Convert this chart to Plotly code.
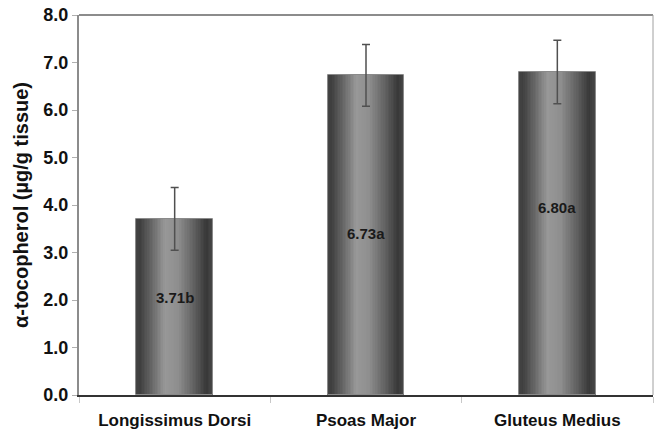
import plotly.graph_objects as go

# Alpha-tocopherol content per muscle
muscles = ["Longissimus Dorsi", "Psoas Major", "Gluteus Medius"]
tocopherol = [3.71, 6.73, 6.80]
std_err = [0.66, 0.65, 0.67]
letters = ["b", "a", "a"]
y_ticks = [0, 1, 2, 3, 4, 5, 6, 7, 8]

FONT = "Liberation Sans, Arial, sans-serif"
BAR_W = 0.40       # bar width in category units
N_STRIPS = 48      # vertical strips used to shade each bar like a cylinder

# grey level stops across the bar (fraction of width -> grey value)
shade_stops = [(0.0, 0x46), (0.05, 0x3e), (0.22, 0x6a), (0.38, 0x98),
               (0.55, 0x8e), (0.78, 0x5c), (0.92, 0x38), (1.0, 0x48)]


def grey_at(t):
    for (t0, g0), (t1, g1) in zip(shade_stops, shade_stops[1:]):
        if t0 <= t <= t1:
            g = g0 + (g1 - g0) * (t - t0) / (t1 - t0)
            g = int(round(g))
            return f"rgb({g},{g},{g})"
    g = shade_stops[-1][1]
    return f"rgb({g},{g},{g})"


fig = go.Figure()

strip_w = BAR_W / N_STRIPS
for i in range(N_STRIPS):
    t = (i + 0.5) / N_STRIPS
    fig.add_trace(go.Bar(
        x=muscles, y=tocopherol,
        width=strip_w * 1.08, offset=-BAR_W / 2 + i * strip_w,
        marker=dict(color=grey_at(t), line=dict(width=0)),
        showlegend=False, hoverinfo="skip",
    ))

# thin outline around each bar
fig.add_trace(go.Bar(
    x=muscles, y=tocopherol, width=BAR_W,
    marker=dict(color="rgba(0,0,0,0)", line=dict(color="#8a8a8a", width=1)),
    showlegend=False, hoverinfo="skip",
))

# standard error whiskers
fig.add_trace(go.Scatter(
    x=muscles, y=tocopherol, mode="markers",
    marker=dict(size=1, color="rgba(0,0,0,0)"),
    error_y=dict(type="data", array=std_err, visible=True,
                 color="#505050", thickness=1.5, width=4),
    showlegend=False, hoverinfo="skip",
))

# value labels inside the bars
label_pos = [0.555, 0.505, 0.58]   # fraction of bar height
for m, v, s, f in zip(muscles, tocopherol, letters, label_pos):
    fig.add_annotation(
        x=m, y=v * f, text=f"{v:.2f}{s}", showarrow=False,
        font=dict(family=FONT, size=15, color="#1a1a1a", weight="bold"),
    )

fig.update_layout(
    width=654, height=433,
    margin=dict(l=79, r=1, t=15, b=38),
    paper_bgcolor="white", plot_bgcolor="white",
    barmode="overlay", bargap=0,
    font=dict(family=FONT),
    shapes=[
        dict(type="line", xref="paper", yref="paper", x0=0, x1=1, y0=1, y1=1,
             line=dict(color="#8c8c8c", width=2)),
        dict(type="line", xref="paper", yref="paper", x0=1, x1=1, y0=0, y1=1,
             line=dict(color="#a0a0a0", width=1)),
    ],
)

fig.update_xaxes(
    showline=True, linecolor="#333333", linewidth=1.5,
    ticks="outside", tickson="boundaries", ticklen=6, tickcolor="#c8c8c8",
    tickfont=dict(family=FONT, size=17, color="#111111", weight="bold"),
    ticklabelstandoff=9,
    showgrid=False, zeroline=False,
)

fig.update_yaxes(
    range=[0, 8], tickvals=y_ticks, tickformat=".1f",
    showline=True, linecolor="#8c8c8c", linewidth=2,
    ticks="outside", ticklen=5, tickcolor="#b0b0b0",
    tickfont=dict(family=FONT, size=18, color="#111111", weight="bold"),
    showgrid=False, zeroline=False,
    title=dict(text="α-tocopherol (µg/g tissue)", standoff=9,
               font=dict(family=FONT, size=20, color="#111111", weight="bold")),
)

fig.write_html("out.html")
